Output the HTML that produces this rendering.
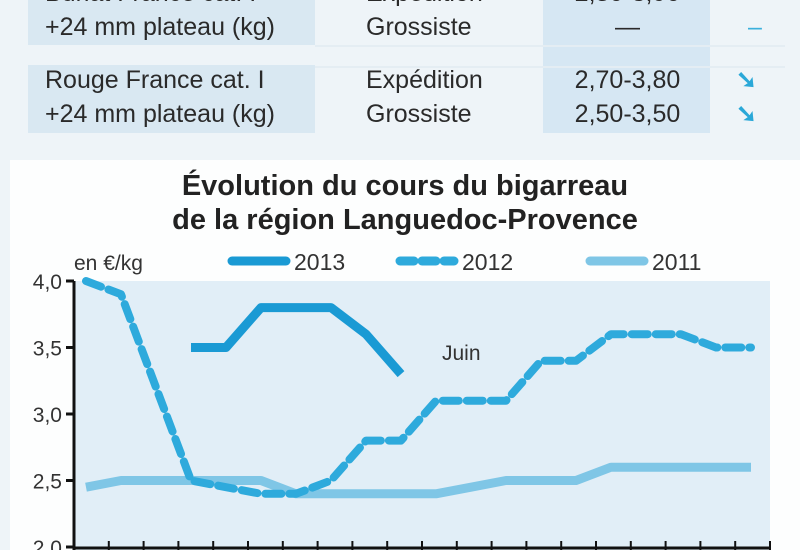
<!DOCTYPE html>
<html><head><meta charset="utf-8"><style>
body{margin:0;width:800px;height:550px;overflow:hidden;background:#eef4f8;font-family:"Liberation Sans Narrow","Liberation Sans",sans-serif;color:#2a2a2a;position:relative}
.a{position:absolute}
.t{font-size:25px;line-height:34px}
</style></head><body>
<div class="a" style="left:0;top:0;width:800px;height:140px">
  <div class="a" style="left:543px;top:0;width:167px;height:133px;background:#d6e7f3"></div>
  <div class="a" style="left:28px;top:0;width:287px;height:45px;background:#d9e8f2"></div>
  <div class="a" style="left:28px;top:65px;width:287px;height:68px;background:#d9e8f2"></div>
  <div class="a" style="left:315px;top:45px;width:470px;height:2px;background:#e4edf3"></div>
  <div class="a" style="left:315px;top:66px;width:470px;height:2px;background:#e4edf3"></div>
  <div class="a t" style="left:45px;top:-24px">Burlat France cat. I<br>+24 mm plateau (kg)</div>
  <div class="a t" style="left:366px;top:-24px">Expédition<br>Grossiste</div>
  <div class="a t" style="left:570px;top:-24px;width:115px;text-align:center">2,80-3,90<br>—</div>
  <div class="a t" style="left:748px;top:-24px;color:#3ab0dc">➘<br>–</div>
  <div class="a t" style="left:45px;top:63px">Rouge France cat. I<br>+24 mm plateau (kg)</div>
  <div class="a t" style="left:366px;top:63px">Expédition<br>Grossiste</div>
  <div class="a t" style="left:570px;top:63px;width:115px;text-align:center">2,70-3,80<br>2,50-3,50</div>
  <div class="a t" style="left:736px;top:63px;color:#2aa8d8;font-weight:bold">➘<br>➘</div>
</div>
<svg class="a" style="left:0;top:0" width="800" height="550">
  <rect x="10" y="160" width="790" height="390" fill="#fdfefe"/>
  <text x="405" y="195" text-anchor="middle" font-size="29" font-weight="bold" fill="#222">Évolution du cours du bigarreau</text>
  <text x="405" y="229" text-anchor="middle" font-size="29" font-weight="bold" fill="#222">de la région Languedoc-Provence</text>
  <text x="74" y="270" font-size="21" fill="#333">en €/kg</text>
  <g id="legend"></g>
  <rect x="74" y="281" width="696" height="269" fill="#e1eef7"/>
  <text x="442" y="360" font-size="21" fill="#333">Juin</text>
  <g id="axes"></g>
  <g id="series"></g>
</svg>
<script>
const categories = Array.from({length:20},(_, i)=>'w'+(i+1));
const s2013 = [null,null,null,3.5,3.5,3.8,3.8,3.8,3.6,3.3,null,null,null,null,null,null,null,null,null,null];
const s2012 = [4.0,3.9,3.2,2.5,2.45,2.4,2.4,2.5,2.8,2.8,3.1,3.1,3.1,3.4,3.4,3.6,3.6,3.6,3.5,3.5];
const s2011 = [2.45,2.5,2.5,2.5,2.5,2.5,2.4,2.4,2.4,2.4,2.4,2.45,2.5,2.5,2.5,2.6,2.6,2.6,2.6,2.6];
const yTicks = [2.0,2.5,3.0,3.5,4.0];
const yLabels = ['2,0','2,5','3,0','3,5','4,0'];
const legendLabels = ['2013','2012','2011'];
const NS='http://www.w3.org/2000/svg';
const x = i => 86 + i*35;
const y = v => 547 - (v-2.0)*133;
function mk(tag, attrs, parent){const e=document.createElementNS(NS,tag);for(const k in attrs)e.setAttribute(k,attrs[k]);parent.appendChild(e);return e;}
const axes=document.getElementById('axes');
const ax=mk('path',{d:'M74 281 V550',stroke:'#111','stroke-width':3,fill:'none'},axes);


yTicks.forEach((v,i)=>{
  const t=mk('line',{x1:66,x2:74,y1:y(v),y2:y(v),stroke:'#111','stroke-width':3},axes);
  
  
  const l=mk('text',{x:62,y:y(v)+8,'text-anchor':'end','font-size':21,fill:'#333'},axes);
  l.textContent=yLabels[i];
  
  
});
const bx=mk('line',{x1:74,x2:770,y1:548,y2:548,stroke:'#111','stroke-width':3},axes);


for(let i=0;i<=20;i++){
  const t=mk('line',{x1:74+i*34.8,x2:74+i*34.8,y1:541,y2:550,stroke:'#111','stroke-width':2},axes);
  
  
}
function pathOf(arr){let d='',pen=false;arr.forEach((v,i)=>{if(v==null){pen=false;return;}d+=(pen?'L':'M')+x(i)+' '+y(v)+' ';pen=true;});return d;}
const ser=document.getElementById('series');
const p11=mk('path',{d:pathOf(s2011),stroke:'#7fc6e6','stroke-width':9,fill:'none','stroke-linejoin':'round'},ser);


const p12=mk('path',{d:pathOf(s2012),stroke:'#2eaadc','stroke-width':8,fill:'none','stroke-dasharray':'16 8','stroke-linecap':'round','stroke-linejoin':'round'},ser);


const p13=mk('path',{d:pathOf(s2013),stroke:'#1a9ad4','stroke-width':9,fill:'none','stroke-linejoin':'round'},ser);


const lg=document.getElementById('legend');
const lx=[232,400,590], styles=[['#1a9ad4',''],['#2eaadc','14 8'],['#7fc6e6','']];
legendLabels.forEach((lab,i)=>{
  const l=mk('line',{x1:lx[i],x2:lx[i]+54,y1:261,y2:261,stroke:styles[i][0],'stroke-width':9,'stroke-linecap':'round','stroke-dasharray':styles[i][1]||'none'},lg);
  
  
  const t=mk('text',{x:lx[i]+62,y:270,'font-size':23,fill:'#333'},lg);
  t.textContent=lab;
  
  
});
</script>
</body></html>
